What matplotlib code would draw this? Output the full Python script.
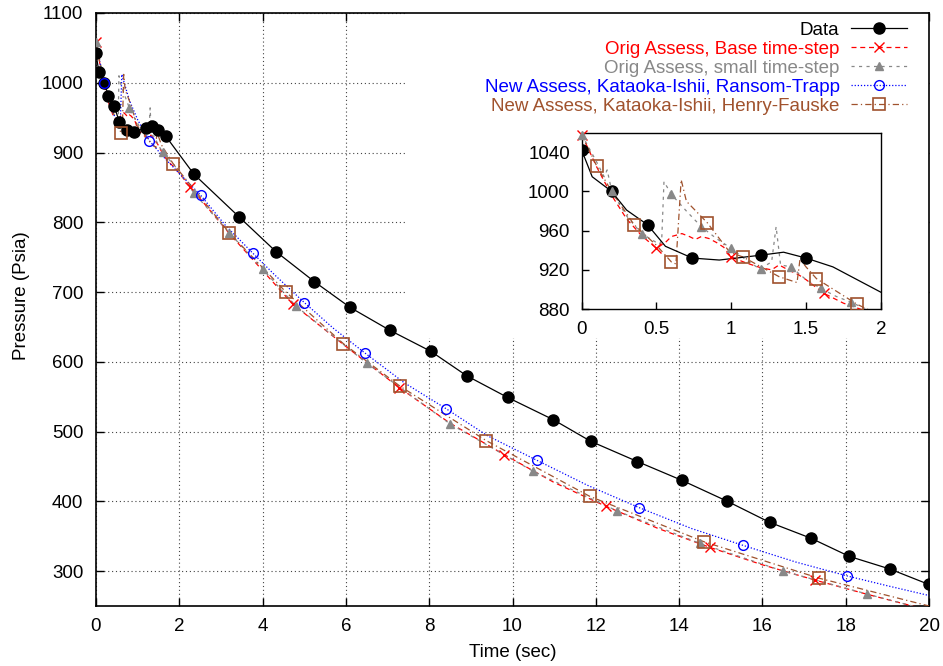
import matplotlib
matplotlib.use("Agg")
import matplotlib.pyplot as plt
from matplotlib.lines import Line2D
from matplotlib.patches import Rectangle

plt.rcParams['font.family'] = ['Liberation Sans', 'DejaVu Sans']
plt.rcParams['font.size'] = 13.5

# measured data
data_t = [0, 0.07, 0.2, 0.3, 0.44, 0.56, 0.74, 0.92, 1.2, 1.35, 1.5, 1.68, 2.35, 3.43,
          4.32, 5.24, 6.1, 7.06, 8.04, 8.9, 9.88, 10.98, 11.88, 13.0, 14.07, 15.16,
          16.17, 17.17, 18.09, 19.06, 19.99]
data_p = [1042, 1015, 1000, 981, 966, 944, 932, 930, 935, 938, 932, 923, 869, 808,
          758, 715, 678, 645, 615, 580, 549, 517, 486, 457, 430, 400,
          370, 347, 321, 303, 281]

# Orig Assess, base time-step
base_t = [0, 0.1, 0.2, 0.3, 0.4, 0.5, 0.56, 0.6, 0.67, 0.72, 0.76, 0.8, 0.85, 0.9, 0.95,
          1.0, 1.1, 1.2, 1.27, 1.32, 1.38, 1.45, 1.5, 1.62, 1.75, 1.88, 2.26, 3.2, 4.72,
          6.0, 7.28, 8.5, 9.8, 11.0, 12.24, 13.5, 14.74, 16.0, 17.27, 18.5, 19.6, 20]
base_p = [1058, 1025, 996, 972, 955, 942, 948, 954, 957, 954, 951, 954, 952, 948, 943,
          933, 927, 922, 920, 925, 920, 915, 910, 896, 886, 879, 851, 784, 683,
          622, 563, 512, 467, 427, 393, 361, 334, 309, 287, 267, 250, 244]
base_mk_t = [0, 2.26, 4.72, 7.28, 9.8, 12.24, 14.74, 17.27]
base_mk_p = [1058, 851, 683, 563, 467, 393, 334, 287]
base_in_t = [0, 0.5, 1.0, 1.62]
base_in_p = [1058, 942, 933, 896]

# Orig Assess, small time-step
small_t = [0, 0.1, 0.15, 0.17, 0.19, 0.2, 0.3, 0.4, 0.52, 0.535, 0.55, 0.6, 0.7, 0.8, 0.9,
           1.0, 1.1, 1.19, 1.27, 1.3, 1.33, 1.4, 1.5, 1.6, 1.7, 1.8, 1.9, 2.35, 3.2, 4.0,
           4.8, 6.5, 8.5, 10.5, 12.52, 14.49, 16.5, 18.52, 19.6, 20]
small_p = [1058, 1030, 1015, 1022, 1008, 1000, 975, 957, 946, 951, 1010, 997, 980, 964, 952,
           942, 930, 921, 928, 964, 925, 923, 910, 901, 893, 887, 880, 842, 785, 733,
           680, 598, 511, 443, 386, 340, 300, 267, 250, 244]
small_mk_t = [0, 0.8, 1.6, 2.35, 3.2, 4.0, 4.8, 6.5, 8.5, 10.5, 12.52, 14.49, 16.5, 18.52]
small_mk_p = [1058, 964, 901, 842, 785, 733, 680, 598, 511, 443, 386, 340, 300, 267]
small_in_t = [0, 0.2, 0.4, 0.6, 0.8, 1.0, 1.2, 1.4, 1.6, 1.8]
small_in_p = [1058, 1000, 957, 997, 964, 942, 921, 923, 901, 887]

# New Assess, Kataoka-Ishii, Ransom-Trapp
rt_t = [0, 0.19, 0.4, 0.58, 0.62, 0.8, 1.0, 1.28, 1.6, 2.0, 2.51, 3.1, 3.76, 4.3, 5.0,
        5.7, 6.47, 7.4, 8.4, 9.4, 10.58, 11.8, 13.04, 14.3, 15.53, 16.8, 18.04, 19.0, 20]
rt_p = [1058, 999, 958, 935, 1012, 975, 947, 917, 895, 870, 839, 796, 756, 724, 685,
        648, 612, 570, 533, 494, 459, 423, 391, 361, 337, 313, 293, 279, 265]
rt_mk_t = [0.19, 1.28, 2.51, 3.76, 5.0, 6.47, 8.4, 10.58, 13.04, 15.53, 18.04]
rt_mk_p = [999, 917, 839, 756, 685, 612, 533, 459, 391, 337, 293]

# New Assess, Kataoka-Ishii, Henry-Fauske
hf_t = [0, 0.1, 0.2, 0.35, 0.5, 0.6, 0.63, 0.665, 0.7, 0.84, 0.99, 1.08, 1.32, 1.44, 1.46,
        1.5, 1.57, 1.84, 1.88, 3.2, 4.56, 5.94, 7.3, 9.37, 11.86, 14.6, 17.35, 20]
hf_p = [1058, 1026, 1000, 966, 945, 928, 926, 1012, 990, 968, 938, 933, 913, 907, 931,
        923, 911, 885, 882, 785, 700, 626, 565, 487, 407, 342, 290, 250]
hf_mk_t = [0.6, 1.85, 3.2, 4.56, 5.94, 7.3, 9.37, 11.86, 14.6, 17.35]
hf_mk_p = [928, 884, 785, 700, 626, 565, 487, 407, 342, 290]
hf_in_t = [0.1, 0.35, 0.6, 0.84, 1.08, 1.32, 1.57, 1.84]
hf_in_p = [1026, 966, 928, 968, 933, 913, 911, 885]

labels = ['Data', 'Orig Assess, Base time-step', 'Orig Assess, small time-step',
          'New Assess, Kataoka-Ishii, Ransom-Trapp', 'New Assess, Kataoka-Ishii, Henry-Fauske']

RED = '#ff0000'
GRAY = '#888888'
BLUE = '#0000ff'
BROWN = '#a0522d'
LW = 0.9
base_style = dict(color=RED, lw=LW, dashes=(4, 3))
small_style = dict(color=GRAY, lw=LW, dashes=(2.5, 3.5))
rt_style = dict(color=BLUE, lw=LW, dashes=(1, 1.5))
hf_style = dict(color=BROWN, lw=LW, dashes=(5, 2.5, 1, 2.5))
data_mk = dict(marker='o', ms=8, mfc='black', mec='black')
base_mk = dict(marker='x', ms=7.5, mec=RED, mew=1.0)
small_mk = dict(marker='^', ms=6, mfc=GRAY, mec=GRAY)
rt_mk = dict(marker='o', ms=7, mfc='none', mec=BLUE, mew=1.0)
hf_mk = dict(marker='s', ms=8, mfc='none', mec=BROWN, mew=1.2)

fig = plt.figure(figsize=(9.43, 6.66), dpi=100)
ax = fig.add_axes([0.1018, 0.0901, 0.8834, 0.8904])

ax.plot(base_t, base_p, zorder=3, **base_style)
ax.plot(small_t, small_p, zorder=3, **small_style)
ax.plot(rt_t, rt_p, zorder=3, **rt_style)
ax.plot(hf_t, hf_p, zorder=3, **hf_style)
ax.plot(data_t, data_p, color='black', lw=LW, zorder=4, **data_mk)
ax.plot(base_mk_t, base_mk_p, ls='none', zorder=5, **base_mk)
ax.plot(small_mk_t, small_mk_p, ls='none', zorder=5, **small_mk)
ax.plot(rt_mk_t, rt_mk_p, ls='none', zorder=5, **rt_mk)
ax.plot(hf_mk_t, hf_mk_p, ls='none', zorder=5, **hf_mk)

ax.set_xlim(0, 20)
ax.set_ylim(250, 1100)
ax.set_xticks(range(0, 21, 2))
ax.set_yticks(range(300, 1101, 100))
ax.tick_params(direction='in', length=6, width=1, top=True, right=True, labelsize=13.5, pad=9)
ax.set_axisbelow(True)
ax.grid(True, color='#444444', lw=0.8, ls=(0, (1, 2.5)))
for s in ax.spines.values():
    s.set_linewidth(1.2)
ax.set_xlabel('Time (sec)', fontsize=13.5, labelpad=6)
ax.set_ylabel('Pressure (Psia)', fontsize=13.5)
ax.yaxis.set_label_coords(-0.079, 0.524)

# blank area behind the key and the inset
ax.add_patch(Rectangle((0.373, 0.452), 0.627, 0.548, transform=ax.transAxes,
                       facecolor='white', edgecolor='none', zorder=1))

handles = [
    Line2D([], [], color='black', lw=LW, **data_mk),
    Line2D([], [], **base_style, **base_mk),
    Line2D([], [], **small_style, **small_mk),
    Line2D([], [], **rt_style, **rt_mk),
    Line2D([], [], **hf_style, **hf_mk),
]
leg = ax.legend(handles, labels, loc='upper right', bbox_to_anchor=(0.9736, 0.9857),
                frameon=False, markerfirst=False, handlelength=3.0, handletextpad=0.6,
                labelspacing=0.1, borderpad=0, borderaxespad=0, fontsize=13.5)
for txt, c in zip(leg.get_texts(), ['black', RED, GRAY, BLUE, BROWN]):
    txt.set_color(c)

# inset zoom on the first two seconds
ins = fig.add_axes([0.6169, 0.536, 0.3171, 0.2648])
ins.plot(base_t, base_p, zorder=3, **base_style)
ins.plot(small_t, small_p, zorder=3, **small_style)
ins.plot(hf_t, hf_p, zorder=3, **hf_style)
ins.plot(data_t, data_p, color='black', lw=LW, markevery=2, zorder=4, **data_mk)
ins.plot(base_in_t, base_in_p, ls='none', zorder=5, clip_on=False, **base_mk)
ins.plot(small_in_t, small_in_p, ls='none', zorder=5, clip_on=False, **small_mk)
ins.plot(hf_in_t, hf_in_p, ls='none', zorder=5, **hf_mk)
ins.set_xlim(0, 2)
ins.set_ylim(880, 1060)
ins.set_xticks([0, 0.5, 1, 1.5, 2])
ins.set_xticklabels(['0', '0.5', '1', '1.5', '2'])
ins.set_yticks([880, 920, 960, 1000, 1040])
ins.tick_params(direction='in', length=5, width=1, labelsize=13.5, pad=8.5)
for s in ins.spines.values():
    s.set_linewidth(1.0)

fig.savefig('out.png', dpi=100)
